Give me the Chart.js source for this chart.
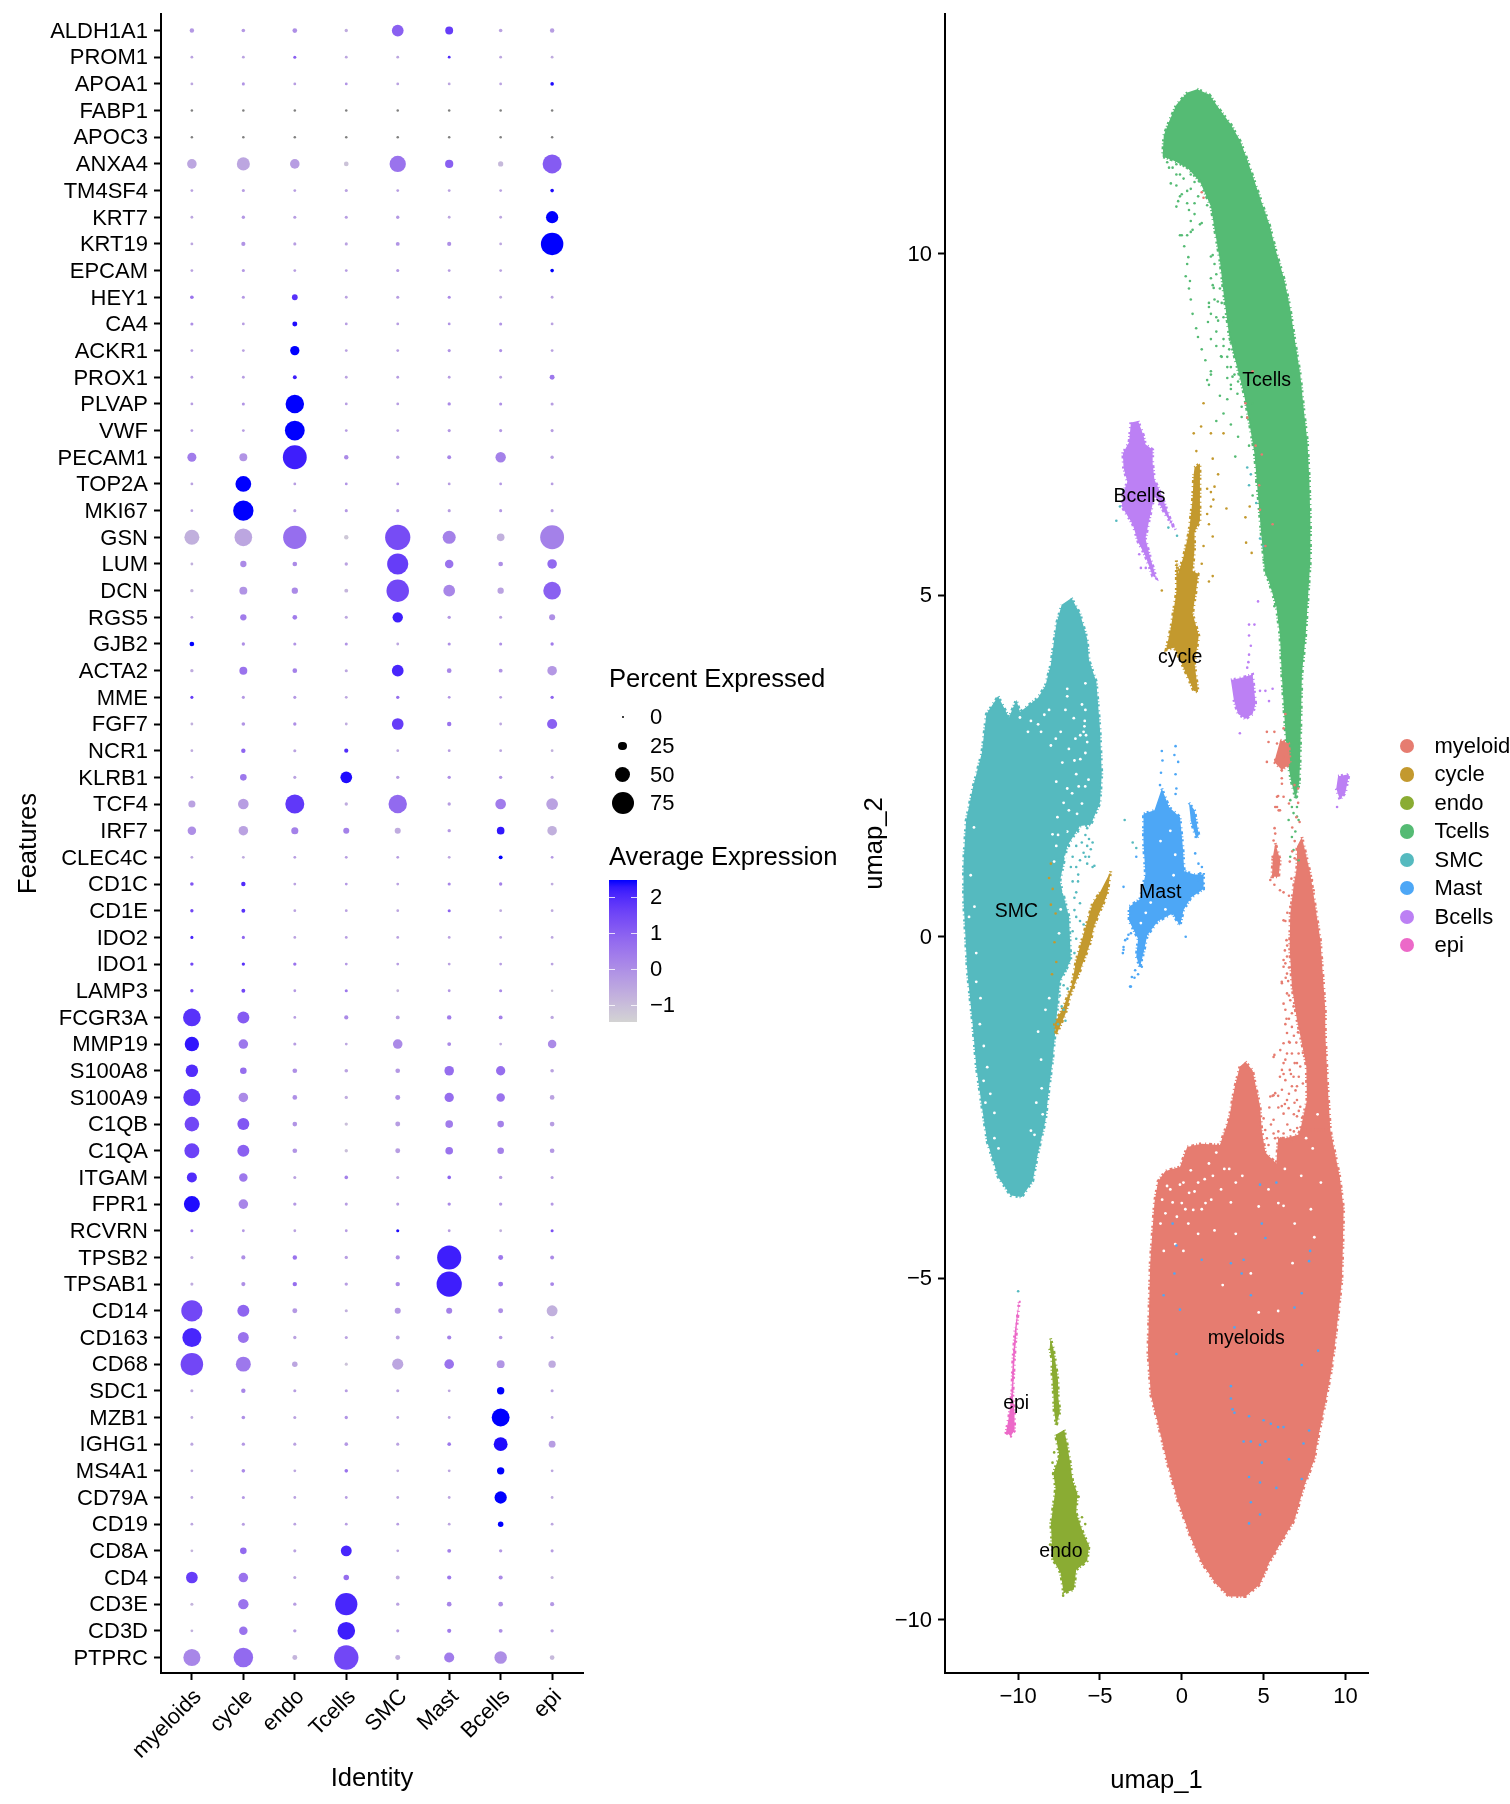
<!DOCTYPE html>
<html>
<head>
<meta charset="utf-8">
<title>Dot plot and UMAP</title>
<script src="https://cdn.jsdelivr.net/npm/chart.js@4"></script>
<style>
  html, body { margin: 0; padding: 0; background: #fff; }
  body { position: relative; width: 1510px; height: 1804px; overflow: hidden; font-family: "Liberation Sans", Arial, sans-serif; color: #000; }
  canvas { position: absolute; left: 0; top: 0; }
  .txt { position: absolute; white-space: nowrap; line-height: 1; }
  .title { font-size: 25.6px; }
  .lab { font-size: 22px; }
  .dot { position: absolute; border-radius: 50%; }
</style>
</head>
<body>
<canvas id="dots" width="1510" height="1804"></canvas>
<canvas id="umap" width="1510" height="1804"></canvas>
<script>
const identities = ['myeloids', 'cycle', 'endo', 'Tcells', 'SMC', 'Mast', 'Bcells', 'epi'];
const genes = ['ALDH1A1','PROM1','APOA1','FABP1','APOC3','ANXA4','TM4SF4','KRT7','KRT19','EPCAM','HEY1','CA4','ACKR1','PROX1','PLVAP','VWF','PECAM1','TOP2A','MKI67','GSN','LUM','DCN','RGS5','GJB2','ACTA2','MME','FGF7','NCR1','KLRB1','TCF4','IRF7','CLEC4C','CD1C','CD1E','IDO2','IDO1','LAMP3','FCGR3A','MMP19','S100A8','S100A9','C1QB','C1QA','ITGAM','FPR1','RCVRN','TPSB2','TPSAB1','CD14','CD163','CD68','SDC1','MZB1','IGHG1','MS4A1','CD79A','CD19','CD8A','CD4','CD3E','CD3D','PTPRC'];

// percent expressed, one row per gene
const pctRows = [
  [9,6,10,5,36,22,6,9],[3,3,4,3,3,3,3,3],[3,4,3,3,3,3,3,6],[2,2,2,2,2,2,2,2],[2,2,2,2,2,2,2,2],
  [28,41,28,10,53,23,12,63],[3,4,3,4,3,3,3,6],[3,5,4,4,5,3,3,38],[3,8,4,4,7,8,3,76],[3,4,3,3,4,3,3,6],
  [6,4,14,3,4,4,3,3],[4,3,11,3,3,3,4,3],[3,3,27,3,3,4,4,3],[3,3,7,3,3,3,3,11],[3,4,61,3,3,5,4,4],
  [3,3,66,3,3,4,4,4],[26,22,81,9,5,7,31,5],[3,51,3,3,3,3,3,3],[3,68,4,4,4,4,4,4],[48,58,79,9,86,41,21,81],
  [3,16,10,5,71,24,10,28],[5,22,16,7,76,36,16,58],[3,16,10,4,31,5,4,15],[10,5,4,4,3,4,4,5],[5,22,10,4,36,10,7,28],
  [4,4,4,3,5,3,3,5],[3,6,5,3,36,9,3,30],[3,9,4,8,3,3,3,3],[3,17,4,36,5,5,5,4],[19,32,63,5,61,5,32,36],
  [24,28,19,15,15,5,21,28],[3,3,3,3,3,3,7,3],[6,9,3,3,3,4,5,3],[5,7,3,3,3,4,3,3],[4,4,3,3,3,3,3,3],
  [5,5,5,3,3,3,3,3],[5,7,3,4,3,3,4,2],[58,37,3,8,7,9,7,5],[46,28,4,3,28,7,3,24],[39,17,10,6,10,28,27,6],
  [56,28,10,5,11,27,24,10],[47,37,10,5,11,21,17,10],[48,37,10,5,11,21,17,10],[30,24,4,6,4,6,5,4],[52,28,5,4,4,5,5,4],
  [4,3,3,3,4,3,3,4],[4,8,9,5,8,82,11,7],[4,8,9,5,9,86,11,7],[71,37,11,4,15,15,11,33],[63,33,5,4,7,8,6,4],
  [76,48,13,4,34,28,22,20],[4,9,4,4,4,3,20,4],[3,6,4,5,3,3,59,3],[4,5,4,6,4,6,44,18],[3,6,3,6,3,3,20,3],
  [3,4,3,3,3,3,38,3],[3,4,3,3,3,3,13,3],[3,17,4,33,3,7,5,4],[36,28,4,13,7,8,8,4],[4,31,5,75,5,10,10,8],
  [3,24,5,58,4,8,7,5],[56,65,11,83,11,30,39,10]
];
// average expression, one row per gene (null = flat gene, drawn grey)
const avgRows = [
  [-0.2,-0.2,0,-0.6,1,1.7,-0.4,-0.3],[-0.4,-0.4,1,-0.5,-0.5,2,-0.5,-0.6],[-0.5,-0.1,-0.3,-0.1,-0.4,-0.5,-0.4,2.4],
  [null,null,null,null,null,null,null,null],[null,null,null,null,null,null,null,null],
  [-0.5,-0.5,-0.3,-1.1,0.6,1,-0.9,1.1],[-0.4,-0.3,-0.3,-0.4,-0.3,-0.4,-0.4,2.4],[-0.5,-0.2,-0.3,-0.3,-0.2,-0.5,-0.5,2.5],
  [-0.5,-0.1,-0.3,-0.4,-0.1,0,-0.5,2.5],[-0.4,-0.2,-0.3,-0.3,-0.2,-0.3,-0.4,2.5],[0.6,-0.2,1.9,-0.4,-0.3,0.1,-0.6,-0.4],
  [0,-0.3,2.4,-0.3,-0.3,-0.1,-0.1,-0.4],[-0.3,-0.4,2.5,-0.4,-0.3,-0.1,0,-0.4],[-0.3,-0.3,2.2,-0.4,-0.3,-0.3,-0.4,0.5],
  [-0.3,-0.1,2.5,-0.3,-0.3,0.1,0,-0.3],[-0.3,-0.3,2.5,-0.3,-0.3,-0.2,-0.2,-0.3],[0.4,-0.1,2.2,0.1,-0.3,0.2,0.3,-0.3],
  [-0.4,2.5,-0.3,-0.1,-0.2,-0.3,-0.2,-0.3],[-0.4,2.5,-0.3,-0.2,-0.2,-0.3,-0.2,-0.3],[-0.7,-0.5,0.7,-1.2,1.4,0.3,-0.7,0.3],
  [-0.7,0.1,0.1,-0.4,1.7,0.6,0,0.8],[-0.8,-0.1,0.1,-0.8,1.5,0.2,-0.4,1],[-0.5,0.4,0.4,-0.5,2.2,-0.2,-0.4,0],
  [2.5,0,-0.1,-0.1,-0.5,0,0,0.4],[-0.6,0.6,0.3,-0.5,2.1,0.2,-0.1,-0.2],[1.7,-0.2,-0.2,-0.5,0.7,-0.1,-0.3,0.9],
  [-0.7,-0.1,0,-0.6,1.7,0.6,-0.5,1],[-0.6,0.9,-0.4,2,-0.5,-0.3,-0.5,-0.7],[-0.5,0.5,-0.4,2.4,-0.3,0,-0.1,-0.5],
  [-0.4,-0.3,1.8,-0.6,0.8,-0.3,0.4,-0.4],[0,-0.4,0.3,0.3,-0.6,-0.2,2.3,-0.7],[-0.5,-0.6,-0.3,-0.3,-0.3,-0.5,2.5,-0.2],
  [1.2,2,-0.4,-0.2,-0.4,0.2,0.3,-0.6],[1.5,1.9,-0.4,-0.4,-0.5,0.9,-0.6,-0.6],[2.1,0.9,-0.4,-0.3,-0.4,-0.4,-0.4,-0.5],
  [1.5,1.9,0.6,-0.2,-0.3,-0.4,-0.3,-0.4],[1.5,1.5,-0.2,0.5,-0.8,-0.2,0.1,-1.1],[1.9,1.1,-0.3,0.1,-0.3,0.4,0.3,-0.5],
  [2.3,0.5,-0.3,-0.5,0.1,0.1,-0.6,0.1],[2,0.7,0,-0.4,-0.2,0.7,0.7,-0.4],[1.8,0.1,0,-0.6,0,0.7,0.6,-0.4],
  [1.5,1.2,-0.1,-1,-0.3,0.4,0.3,-0.3],[1.6,1,-0.1,-1,-0.3,0.6,0.3,-0.2],[2,0.5,-0.4,0.3,-0.5,0.9,-0.3,-0.3],
  [2.4,0.2,-0.2,-0.3,-0.3,0.1,-0.2,-0.2],[0.6,-0.2,-0.4,-0.3,2.4,-0.3,-0.7,1.3],[-0.6,0,0.6,-0.3,0,2.2,0.5,0.1],
  [-0.6,0,0.7,-0.3,0.1,2.2,0.5,0.2],[1.5,0.9,-0.2,-0.7,-0.2,0.3,0,-0.7],[2.1,0.6,-0.4,-0.4,-0.4,0.3,-0.2,-0.5],
  [1.5,0.5,-0.5,-1.1,-0.5,0.6,-0.1,-0.6],[-0.5,0.2,-0.3,-0.3,-0.4,-0.5,2.5,-0.4],[-0.6,0,-0.4,-0.1,-0.4,-0.4,2.5,-0.5],
  [-0.5,-0.2,-0.4,-0.2,-0.4,0.5,2.4,-0.3],[-0.6,0.1,-0.5,0.6,-0.6,-0.5,2.5,-0.5],[-0.5,-0.2,-0.4,-0.3,-0.5,-0.5,2.5,-0.6],
  [-0.5,-0.3,-0.4,-0.3,-0.3,-0.5,2.5,-0.5],[-0.8,0.8,-0.4,2.1,-0.5,0.3,-0.2,-0.3],[1.7,0.6,-0.5,0.7,-0.6,0.5,0.1,-0.8],
  [-0.8,0.6,-0.3,2.1,-0.4,0.2,0,-0.2],[-0.7,0.6,-0.3,2.2,-0.3,0.4,0,-0.3],[0.2,0.8,-0.8,1.5,-0.7,0.4,0,-0.9]
];

const sizeBreaks = [0, 25, 50, 75];
const colourBreaks = [2, 1, 0, -1];
const colourMin = -1.456, colourMax = 2.48;

// UMAP: cluster outlines, [umap_1, umap_2]
const tcellsShape = [[0.94,12.41],[1.68,12.33],[2.35,12.1],[3.01,11.89],[3.57,11.65],[4.01,11.37],[4.46,11.05],[4.9,10.74],[5.35,10.43],[5.79,10.01],[6.24,9.64],[6.61,9.22],[6.9,8.75],[7.24,8.23],[7.46,7.71],[7.68,7.24],[7.8,6.66],[7.86,6.04],[7.86,5.52],[7.68,4.83],[7.57,4.41],[7.34,3.84],[7.28,3.16],[7.23,2.58],[7.18,2.25],[6.95,2.02],[6.67,2.3],[6.45,2.58],[6.29,3.16],[6.11,3.84],[6,4.41],[5.78,4.83],[5.33,5.2],[5.1,5.31],[4.88,5.83],[4.66,6.46],[4.44,7.08],[4.11,7.55],[3.78,7.97],[3.33,8.39],[2.89,8.81],[2.55,9.43],[2.33,9.9],[2,10.37],[1.78,10.69],[1.12,11.05],[0.34,11.26],[-0.55,11.37],[-1.17,11.42],[-1.1,11.73],[-0.77,11.94],[-0.33,12.18],[0.34,12.36]];
const bcellsShape = [[-2.67,7.55],[-2.34,7.34],[-2.22,7.21],[-1.78,7.13],[-1.78,6.93],[-1.67,6.69],[-1.22,6.46],[-0.67,6.09],[-0.38,5.96],[-0.89,6.14],[-1.67,6.46],[-2,6.09],[-2.22,5.83],[-2,5.62],[-1.56,5.25],[-1.78,5.28],[-2.22,5.57],[-2.67,5.78],[-3,6.04],[-3.67,6.3],[-3.56,6.51],[-3.33,6.66],[-3.56,6.87],[-3.6,7.08],[-3.22,7.24],[-3.11,7.53]];
const bcellsBlob = [[3,3.76],[3.66,3.79],[4.33,3.84],[4.44,3.58],[4.51,3.42],[4.33,3.26],[3.89,3.19],[3.44,3.26],[3.18,3.47]];
const bcellsSmall = [[9.55,2.35],[10.22,2.38],[10,2.11],[9.66,2.01],[9.44,2.17]];
const cycleShape = [[0.78,6.87],[1.11,6.93],[1.11,6.56],[1.11,6.09],[0.78,5.93],[0.78,5.67],[0.66,5.36],[1,5.31],[0.89,5.09],[0.66,4.73],[1.04,4.41],[0.78,4],[1,3.58],[0.73,3.6],[0.11,3.94],[-0.45,4.23],[-0.96,4.2],[-0.67,4.52],[-0.33,5.04],[-0.33,5.51],[-0.22,5.31],[0.11,5.57],[0.44,5.93],[0.66,6.4],[0.73,6.77]];
const cycleStreak = [[-4.34,0.96],[-4.56,0.62],[-4.82,0.47],[-5.33,0.18],[-5.62,-0.11],[-6.22,-0.5],[-6.78,-0.84],[-7.11,-1.13],[-7.67,-1.44],[-7.78,-1.28],[-7.22,-1.02],[-6.73,-0.71],[-6.45,-0.34],[-5.89,0.13],[-5.45,0.49],[-5,0.65]];
const smcShape = [[-6.74,4.96],[-6.22,4.73],[-5.78,4.36],[-5.67,4.05],[-5.22,3.73],[-5,3.05],[-4.89,2.38],[-5,1.96],[-5.56,1.64],[-6.22,1.62],[-7,1.33],[-7.45,0.81],[-6.89,0.29],[-6.78,-0.34],[-7.45,-0.66],[-7.67,-1.23],[-7.89,-1.8],[-8.11,-2.22],[-8.33,-2.69],[-8.78,-3.16],[-9.11,-3.58],[-9.78,-3.81],[-10.45,-3.79],[-11.22,-3.52],[-11.89,-3],[-12.22,-2.48],[-12.56,-1.9],[-12.78,-1.28],[-13.11,-0.5],[-13.34,0.55],[-13.34,1.07],[-13.18,1.7],[-12.78,2.17],[-12.22,2.69],[-11.94,3.26],[-11.22,3.52],[-10.56,3.21],[-10.11,3.47],[-9.89,3.29],[-8.78,3.5],[-8.33,3.68],[-8,3.99],[-7.67,4.57],[-7.34,4.86]];
const mastShape = [[-1.22,2.17],[-0.78,1.9],[-0.11,1.75],[0.06,1.33],[0.15,0.96],[0.78,0.91],[1.33,0.91],[1.33,0.7],[0.55,0.57],[0.11,0.39],[-0.11,0.16],[-0.56,0.34],[-1.45,0.23],[-2.11,0.02],[-2.34,-0.24],[-2.56,-0.45],[-2.78,-0.29],[-2.67,-0.03],[-3.22,0.23],[-3.22,0.44],[-2.56,0.55],[-2.22,0.91],[-2.34,1.38],[-2.34,1.8],[-1.67,1.85]];
const mastStrip = [[0.44,1.96],[0.78,1.85],[1.04,1.49],[0.89,1.44],[0.55,1.7]];
const mastInMyeloidStreak = [[4.33,-8.59],[4.73,-8.64],[4.55,-9.06],[4.29,-9.06]];
const mastInMyeloidBlob = [[4.89,-7.42],[5.78,-7.39],[5.89,-7.55],[5.33,-7.63]];
const myeloidShape = [[3.89,-1.83],[4.33,-1.96],[4.55,-2.22],[4.78,-2.48],[4.89,-2.84],[5.11,-3.16],[5.78,-3.32],[5.89,-2.95],[6.33,-2.95],[7.11,-2.9],[7.24,-2.83],[9.08,-2.83],[9.44,-3.26],[9.66,-3.52],[9.89,-3.99],[9.84,-4.57],[9.78,-5.04],[9.55,-5.56],[9.33,-6.03],[9.11,-6.4],[8.78,-6.82],[8.33,-7.34],[8.11,-7.65],[7.44,-8.07],[6.89,-8.54],[6.11,-8.85],[5.33,-9.17],[4.78,-9.48],[3.89,-9.66],[2.89,-9.66],[2.11,-9.48],[1.22,-9.17],[0.55,-8.8],[-0.22,-8.28],[-0.89,-7.7],[-1.45,-7.13],[-1.89,-6.71],[-2.07,-6.08],[-2,-5.46],[-1.93,-4.78],[-1.67,-3.89],[-1.45,-3.58],[-1,-3.43],[-0.11,-3.37],[0.33,-3.08],[1.22,-3.03],[2.33,-3.05],[2.89,-2.66],[3.22,-2.22],[3.55,-1.9]];
const myeloidArm = [[7.34,1.46],[7.85,0.93],[8.1,0.54],[8.47,-0.05],[8.63,-0.59],[8.77,-1.07],[8.77,-1.41],[8.91,-2.15],[9.08,-2.83],[7.24,-2.83],[7.65,-2.39],[7.61,-1.9],[7.34,-1.56],[7.04,-1.22],[6.73,-0.73],[6.59,-0.15],[6.63,0.34],[6.83,0.73],[7.04,1.03],[7.04,1.32]];
const myeloidStrip = [[6.02,2.88],[6.53,2.83],[6.63,2.54],[6.12,2.44],[5.65,2.56]];
const myeloidStrip2 = [[5.71,1.37],[6.02,1.12],[5.92,0.88],[5.51,0.88],[5.57,1.17]];
const endoShape = [[-7.18,-7.22],[-7,-7.44],[-6.82,-7.7],[-6.67,-7.97],[-6.38,-8.15],[-6.45,-8.44],[-6,-8.75],[-5.67,-8.91],[-5.78,-9.14],[-6.45,-9.27],[-6.6,-9.56],[-7.22,-9.61],[-7.4,-9.32],[-7.89,-9.11],[-8,-8.59],[-7.71,-8.07],[-7.85,-7.86],[-7.49,-7.6],[-7.71,-7.29]];
const endoStrip = [[-8.02,-5.88],[-7.85,-6.03],[-7.71,-6.24],[-7.56,-6.5],[-7.56,-6.71],[-7.45,-6.95],[-7.67,-7.16],[-7.8,-6.95],[-7.85,-6.66],[-7.93,-6.4],[-7.93,-6.19],[-8.07,-6.03]];
const epiShape = [[-9.96,-5.35],[-9.94,-5.35],[-10.07,-5.67],[-10.22,-6.14],[-10.33,-6.71],[-10.22,-6.97],[-10.22,-7.23],[-10.45,-7.31],[-10.74,-7.26],[-10.56,-7.02],[-10.38,-6.66],[-10.33,-6.24],[-10.18,-5.72]];

// UMAP: loose cells outside the dense outlines
const tcellsCells = [[-0.78,11.26],[-0.33,11.16],[-0.11,10.84],[-0.33,10.69],[0.44,10.64],[0.78,10.74],[1.22,10.45],[0,10.27],[0.55,10.32],[0.15,10.11],[0.33,9.85],[0.24,9.67],[0.44,9.49],[0.55,9.33],[0.66,9.12],[0.88,8.91],[0.99,8.78],[1.66,9.22],[2.11,9.07],[1.78,9.64],[2,9.85],[1.89,9.98],[1.22,8.6],[1.44,8.44],[1.78,8.23],[1.66,8.08],[2.33,7.92],[3,8.08],[2.78,8.34],[3.22,8.55],[2.55,8.75],[2.11,8.86],[3.66,7.76],[4.33,7.81],[4,7.6],[2.55,7.66],[2.11,7.55],[3,7.5],[3.44,7.32],[4.11,7.19],[3.27,7.03],[-0.33,11.31],[0.11,11.1],[0.55,10.95],[3,9.02],[3.22,8.7],[3.55,8.23],[4.55,6.66],[4.33,6.46],[4.89,6.04],[5,5.52],[5.55,5.15],[5.66,4.84],[0.4,9.95],[0.5,9.6],[1.95,9.5],[2.2,9.3],[1.6,9],[2.4,8.5],[2.9,8.6],[3.1,8.2],[3.4,7.95],[-0.89,11.34],[-0.56,11.26],[-0.67,11.03],[-0.33,11],[0.11,11.29],[-0.11,11.16],[0.55,11.16],[0.78,11.05],[0.33,10.92],[0,10.87],[-0.22,10.77],[0.33,10.74],[1,10.84],[1.55,10.71],[0.78,10.58],[0.55,10.48],[1.11,10.43],[-0.11,10.27],[0.33,10.27],[0.66,10.35],[1.78,9.96],[2.11,9.7],[1.89,9.54],[2.33,9.49],[1.66,9.28],[2,9.33],[2.44,9.28],[1.78,9.12],[2.22,9.02],[2.55,9.07],[1.78,8.75],[2.11,8.65],[2.55,8.65],[3,8.7],[2.44,8.49],[2.78,8.49],[3,8.34],[2.78,8.18],[3.22,8.23],[3,8.02],[3.44,8.13],[2.78,7.87],[1.78,8.28],[1.55,8.15],[3.66,7.61],[7.04,1.9],[6.73,1.9],[7.04,1.76],[6.53,1.71],[7.14,1.71],[6.94,1.54],[6.73,1.46],[6.83,1.27],[6.63,1.17],[7.14,1.12],[7.04,2.05],[6.83,1.81],[6.63,2]];
const bcellsCells = [[4.11,4.57],[4.44,4.57],[4.11,4.41],[4.22,4.26],[4.11,4.13],[4.07,4.02],[4,3.94],[4.78,3.6],[5.11,3.6],[5.55,3.63],[5.33,3.45],[3.55,2.98],[4.66,4.91],[9.49,1.9],[-2.6,5.6],[-2.5,5.4],[-2.2,5.4]];
const cycleCells = [[1.33,7.81],[1.18,7.47],[0.73,7.37],[1.78,7.37],[2.55,7.37],[0.89,7.11],[1.89,7],[2.22,6.77],[1.78,6.51],[2,6.59],[1.55,6.56],[1.93,6.4],[1.78,6.3],[1.55,6.19],[1.66,6.04],[1.89,5.86],[1.33,5.72],[1.22,5.46],[1.89,5.28],[1.66,5.2],[2.73,6.27],[3.89,6.14],[4.15,6.3],[3.93,5.77],[4.27,5.62],[-1.22,5.07],[-8,1.07],[-8.11,0.86],[-7.89,0.7],[-8,0.47],[-7.71,0.34],[-7.78,-0.08],[-7.67,-0.37],[-7.93,-0.55]];
const smcCells = [[-5.45,1.38],[-5.67,1.17],[-5.34,1.04],[-6.33,0.91],[-6.45,0.65],[-6.56,0.39],[-6.22,0.23],[-6,1.23],[-5.78,1.59],[-6.98,-0.76],[-7.22,-1.07],[-3,1.38],[-2.78,1.3],[-3.49,1.71],[-4,6.09],[-3.78,6.3],[-3.56,6.53],[-0.82,5.99],[-0.29,5.87],[4,6.87],[4.22,6.77],[4.11,6.61],[4.55,6.35],[4.78,5.83],[5,5.72],[-10,-5.19],[-7.11,1.54],[-6.78,1.49],[-6.34,1.54],[-5.89,1.49],[-5.78,1.33],[-5.56,1.28],[-6.45,1.33],[-6.89,1.33],[-6.67,1.17],[-6.22,1.12],[-5.78,1.07],[-5.45,1.02],[-6.45,1.02],[-6.78,1.02],[-6.67,0.81],[-6.34,0.81],[-6.56,0.57],[-6.22,0.49],[-6.45,0.29],[-6,0.18],[-6.67,0.08],[-6.45,-0.03],[-6.56,-0.24],[-7.11,-0.5],[-7.22,-0.71],[-7.45,-0.86],[-7.34,-1.02],[-7.11,-1.23],[-7.56,-1.28],[-6.11,1.38],[-5.67,1.43],[-5.89,1.17]];
const mastCells = [[-1.22,2.72],[-1.18,2.58],[-1.27,2.4],[-0.38,2.79],[-0.45,2.66],[-0.22,2.56],[-0.38,2.38],[-0.33,2.17],[-0.38,2.09],[-1.33,2.22],[-3.56,-0.19],[-3.33,-0.03],[-3.11,0.05],[-2.67,-0.55],[-2.89,-0.6],[-3.11,-0.73],[-3.6,-0.24],[0.24,0],[-2.78,1.17],[-3.56,0.73],[-0.56,-4.2],[-0.33,-4.52],[-0.45,-4.93],[-1.11,-5.25],[-0.11,-5.46],[1.22,-4.73],[3,-4.78],[3.78,-4.73],[3.66,-4.93],[4.22,-5.25],[3.22,-5.72],[4.89,-4.2],[5.11,-4.41],[4.78,-3.63],[5.78,-3.6],[7.78,-4.75],[7.84,-4.6],[7.33,-5.22],[6.89,-5.43],[8.33,-6.06],[7.33,-6.27],[-0.33,-6.11],[3,-6.58],[3,-6.76],[3.11,-6.92],[3.22,-6.97],[4.11,-7.02],[4.22,-7.39],[3.78,-7.39],[4.78,-7.44],[5.11,-7.39],[5,-7.08],[5.44,-7.13],[5.89,-7.18],[6.22,-7.18],[4.89,-7.7],[4.11,-7.91],[4.78,-7.99],[5.78,-8.07],[7.33,-7.94],[6.55,-7.65],[7.44,-7.42],[7.78,-7.23],[4.22,-8.28],[4.78,-8.46],[4.11,-8.59],[-3.56,-0.15],[-3.46,-0.05],[-3.26,0.03],[-3.05,-0.59],[-3.16,-0.73],[-2.85,-0.49],[-2.44,-0.34],[-2.54,-0.24],[-2.44,-0.44],[0.82,1.22],[1.02,1.07],[1.23,1.02],[1.13,0.93],[1.02,0.83],[1.33,0.78]];
const myeloidCells = [[5.55,0.89],[5.55,1.17],[5.78,1.33],[5.67,1.59],[6,1.85],[5.89,2.06],[6.11,2.32],[5.66,3],[6.22,3.05],[6.33,3.26],[6.33,-1.8],[5.89,-2.33],[6.33,-1.28],[6.22,-0.34],[6.11,-0.66],[6.44,-0.13],[6.55,-0.86],[6.33,0.23],[6.22,0.65],[5.66,0.76],[6,0.68],[6.55,-1.54],[6.67,-2.01],[6.22,-2.01],[5.66,-1.73],[5.55,-2.33],[6.11,-2.48],[6.89,-2.43],[7.11,2.17],[7.11,1.96],[7,1.75],[7.2,1.68],[6.89,2.22],[1.22,10.9],[1.33,10.82],[4.33,8.28],[3.89,7.81],[4,7.6],[4.51,7.19],[4.89,7.06],[4.73,6.61],[4.78,6.25],[5.55,6.04],[5.11,5.72],[6.22,-1.56],[6.02,-1.66],[5.61,-1.76],[6.43,-1.41],[6.73,-1.32],[6.12,-1.95],[6.33,-2.1],[6.12,-2.24],[6.83,-2.05],[7.04,-2.19],[6.43,-2.39],[5.61,-2.32],[5.41,-2.34],[5.71,-2.29],[6.53,-2.51],[6.22,-2.59],[5.61,-2.68],[5,-2.66],[5.1,-2.83],[5.61,-2.88],[6.22,-2.88],[6.63,-2.83],[7.04,-2.63],[7.24,-2.49],[7.04,-1.85],[6.73,-1.71],[7.24,-1.9],[6.43,-1.71],[7.04,-2.39],[6.73,-2.19],[6.22,-1.85],[7.14,-1.71],[6.33,-0.39],[6.22,-0.44],[6.12,-0.68],[6.43,-0.54],[6.43,-0.83],[6.33,-1.07],[6.73,-1.12],[6.22,0.24],[6.43,-0.29],[6.63,-0.93],[6.83,-1.02],[6.22,-0.98],[6.63,0.44],[8.06,0.68],[7.96,0.83],[5.61,1.41],[5.71,1.51],[5.6,1.02],[5.41,0.83],[5.92,1.85],[5.82,1.9],[5.82,2.05],[6.22,2.05],[5.71,1.9],[6.12,2.24],[5.71,2.59],[5.2,2.56],[5.3,2.85],[5.2,3],[5.82,2.83],[6.22,2.63],[6.9,1.4],[7.1,1.15],[6.75,1.6],[6.55,1.95],[5.9,-2.5],[6,-2.05],[6.3,-2.45],[6.55,-2.3],[6.85,-2.6],[6.95,-2.25],[7.15,-2.55],[7.15,-2.05],[6.6,-1.95],[6.9,-1.85],[7,-1.55],[6.85,-1.45],[6.6,-1.55],[6.55,-1.2],[7.1,-1.4],[6.4,-1.2],[6.5,-0.65],[6.35,-0.6],[6.55,-0.45],[6.4,-0.05],[6.3,-0.2],[6.45,0.35],[6.55,0.6],[6.7,0.85],[6.9,1.15],[6.75,1.25],[6.6,1.1],[5.45,-2.75],[5.35,-2.5],[5.9,-2.85],[6.45,-2.75],[6.85,-2.85],[7.05,-2.8],[5.7,-2.95],[6.05,-2.95],[5.3,-3.05],[6.4,-3],[6.7,-3],[5.2,-2.95],[7.4,-1.7],[7.4,-2.15],[7.35,-2.65]];
const endoCells = [[-7.9,-7.7],[-7.8,-7.55],[-6.3,-8.2],[-6.1,-8.5],[-5.9,-8.6],[-7.25,-9.65],[-8.05,-8.9]];
const epiCells = [[-10.3,-6.4],[-10.25,-6.05],[-10.05,-5.55]];

// UMAP: white gaps inside the big clouds
const cloudGaps = [[-5.89,3.32],[-5.93,3.16],[-6,3],[-5.78,2.85],[-5.89,2.69],[-7,3.52],[-7.11,3.32],[-7,3.63],[-5.89,3.71],[-6.56,2.58],[-6.45,2.38],[-7,2.17],[-7.67,2.27],[-7.22,1.96],[-8.78,3.11],[-9.22,3.16],[-9.89,3.21],[-8.11,3.32],[-7.56,1.49],[-7.67,1.33],[-7,1.54],[-7.11,1.17],[-7.11,0.91],[-7.22,0.65],[-12.56,-0.24],[-12.56,-0.66],[-12.34,-1.28],[-11.89,-1.91],[-8.33,-1.07],[-8.78,-1.39],[-13,0.29],[-12.67,0.44],[-12.11,-2.11],[-12,-2.43],[-11.45,-2.58],[-11.45,-2.95],[-8.89,-2.43],[-8.56,-2.22],[-9.22,-2.84],[-5.95,3.08],[-5.85,2.95],[-6.5,2.9],[-6.3,2.2],[-6.1,1.95],[-6.9,2.75],[-7.3,2.55],[-6.1,3.4],[-6.2,2.95],[-6.6,3.2],[-6.2,2.6],[-5.7,2.3],[-5.9,2.2],[-6.7,2.1],[-6.9,1.85],[-6.4,1.8],[-7.4,3],[-7.7,2.9],[-8,2.8],[-8.4,3.25],[-8.6,3],[-9.4,3],[-7.6,1.75],[-7.9,1.5],[-7.8,1.1],[-7.4,0.4],[-7.5,0.05],[-8.1,-0.9],[-8.6,-1.8],[-8.5,-2.6],[-9,-2.9],[-12.9,0.9],[-12.7,1.6],[-12.3,-0.9],[-12.1,-1.6],[-11.7,-2.3],[-11.2,-3.1],[0.22,-3.99],[-0.11,-3.63],[0.78,-3.73],[-1,-4.05],[-0.56,-3.89],[0.55,-3.42],[1.66,-3.32],[2.11,-3.16],[3,-3.89],[1.22,-3.99],[5.89,-5.48],[4.22,-4.93],[6.77,-4.78],[7.89,-3.99],[6.22,-3.94],[0.1,-3.6],[-0.7,-3.7],[1.9,-3.5],[2.6,-3.4],[0.45,-3.75],[6.3,-3.4],[7.6,-2.95],[8,-3.1],[8.3,-2.6],[-1.3,-4.2],[-1.2,-3.85],[-0.9,-3.65],[-0.3,-4.1],[0,-3.9],[0.4,-4.2],[0.7,-4],[1,-3.6],[1.4,-3.55],[1.45,-3.9],[1.8,-3.85],[2.4,-3.7],[2.9,-3.4],[3.3,-3.6],[3.7,-3.5],[-0.4,-4.5],[0.1,-4.6],[-1.1,-4.6],[1,-4.35],[2,-4.3],[3.3,-4.35],[4.7,-3.95],[5.3,-3.7],[5.9,-3.9],[7.3,-3.5],[8.5,-3.6],[8.1,-4.4],[6.9,-4.2],[4.7,-5.5],[2.5,-5.1],[-1,0.4],[-1.3,1.4],[-0.5,0.9],[-1.9,0.5],[-2.2,0.35],[-0.4,1.2],[-0.7,1.55],[-2.5,0.2]];

const clusterNames = ['myeloids', 'cycle', 'endo', 'Tcells', 'SMC', 'Mast', 'Bcells', 'epi'];
const clusterColours = ['#E67C70', '#C3992E', '#8AAC33', '#55BB74', '#55BABF', '#4DA7F6', '#BC80F4', '#EC69C8'];
const clusterShapes = [
  [myeloidShape, myeloidArm, myeloidStrip, myeloidStrip2], [cycleShape, cycleStreak], [endoShape, endoStrip], [tcellsShape],
  [smcShape], [mastShape, mastStrip, mastInMyeloidStreak, mastInMyeloidBlob], [bcellsShape, bcellsBlob, bcellsSmall], [epiShape]
];
const clusterCells = [myeloidCells, cycleCells, endoCells, tcellsCells, smcCells, mastCells, bcellsCells, epiCells];
const clusterLabels = [[3.94,-5.88], [-0.1,4.09], [-7.39,-9.01], [5.19,8.14], [-10.1,0.37], [-1.32,0.64], [-2.59,6.44], [-10.12,-6.84]];

// lightgrey to blue in Lab, the way ggplot2 mixes its gradient
function labToRgb(L, a, b) {
  const fy = (L + 16) / 116, fx = fy + a / 500, fz = fy - b / 200;
  const inv = t => t > 6 / 29 ? t * t * t : 3 * (6 / 29) * (6 / 29) * (t - 4 / 29);
  const X = 0.95047 * inv(fx), Y = inv(fy), Z = 1.08883 * inv(fz);
  const lin = [3.2406 * X - 1.5372 * Y - 0.4986 * Z, -0.9689 * X + 1.8758 * Y + 0.0415 * Z, 0.0557 * X - 0.204 * Y + 1.057 * Z];
  const gam = c => { c = Math.min(1, Math.max(0, c)); return c <= 0.0031308 ? 12.92 * c : 1.055 * Math.pow(c, 1 / 2.4) - 0.055; };
  return 'rgb(' + lin.map(c => Math.round(gam(c) * 255)).join(',') + ')';
}
function expColour(v) {
  if (v === null) return '#808080';
  const t = Math.min(1, Math.max(0, (v - colourMin) / (colourMax - colourMin)));
  return labToRgb(84.56 + t * (32.3 - 84.56), t * 79.19, t * -107.86);
}
const pctRadius = p => 1 + 0.135 * p;
const minus = v => String(v).replace('-', '\u2212');

Chart.defaults.font.family = '"Liberation Sans", Arial, sans-serif';
Chart.defaults.color = '#000';
Chart.defaults.animation = false;
Chart.defaults.events = [];
Chart.defaults.plugins.legend.display = false;
Chart.defaults.plugins.tooltip.enabled = false;

const axisLines = {
  border: { color: '#000', width: 2 },
  grid: { drawOnChartArea: false, tickLength: 7, tickWidth: 2, tickColor: '#000' }
};
// fixed axis boxes, so the panels land where they should whatever the labels need
const fixHeight = h => s => { s.height = h; s.paddingLeft = 0; s.paddingRight = 0; };
const fixWidth = w => s => { s.width = w; s.paddingTop = 0; s.paddingBottom = 0; };

const dotPoints = [];
genes.forEach((g, row) => identities.forEach((id, col) => {
  dotPoints.push({ x: col, y: row, r: pctRadius(pctRows[row][col]), avg: avgRows[row][col] });
}));

new Chart(document.getElementById('dots'), {
  type: 'bubble',
  data: {
    datasets: [{
      data: dotPoints,
      borderWidth: 0,
      backgroundColor: ctx => expColour(ctx.raw.avg)
    }]
  },
  options: {
    responsive: false,
    layout: { padding: { left: 0, top: 14, right: 927, bottom: 0 } },
    clip: false,
    scales: {
      x: {
        type: 'linear', min: -0.6, max: 7.6, ...axisLines,
        afterFit: fixHeight(131),
        ticks: { stepSize: 1, includeBounds: false, autoSkip: false, maxRotation: 45, minRotation: 45, padding: 4, labelOffset: 6, font: { size: 22 }, callback: v => identities[v] },
        title: { display: true, text: 'Identity', font: { size: 25.6 }, padding: { top: 0, bottom: 10 } }
      },
      y: {
        type: 'linear', reverse: true, min: -0.62, max: 61.58, ...axisLines,
        afterFit: fixWidth(161),
        ticks: { stepSize: 1, includeBounds: false, autoSkip: false, padding: 6, labelOffset: 1.2, font: { size: 22 }, callback: v => genes[v] },
        title: { display: true, text: 'Features', font: { size: 25.6 }, padding: { top: 14, bottom: 0 } }
      }
    }
  }
});

const asPoints = list => list.map(p => ({ x: p[0], y: p[1] }));
const umapSets = [];
clusterNames.forEach((name, i) => {
  clusterShapes[i].forEach(shape => {
    umapSets.push({
      label: name, order: 3, data: asPoints(shape), showLine: true, fill: 'shape', tension: 0,
      backgroundColor: clusterColours[i], borderColor: clusterColours[i], borderWidth: 3,
      borderDash: [1, 2, 2, 4, 1, 3, 3, 2], pointRadius: 0
    });
  });
});
umapSets.push({ label: 'gaps', order: 2, data: asPoints(cloudGaps), backgroundColor: '#fff', borderWidth: 0, pointRadius: 1.4 });
clusterNames.forEach((name, i) => {
  umapSets.push({ label: name, order: 1, data: asPoints(clusterCells[i]), backgroundColor: clusterColours[i], borderWidth: 0, pointRadius: 1.3 });
});

const clusterText = {
  id: 'clusterText',
  afterDatasetsDraw(chart) {
    const { ctx, scales: { x, y } } = chart;
    ctx.save();
    ctx.font = '19.5px "Liberation Sans", Arial, sans-serif';
    ctx.fillStyle = '#000';
    ctx.textAlign = 'center';
    ctx.textBaseline = 'middle';
    clusterLabels.forEach((p, i) => ctx.fillText(clusterNames[i], x.getPixelForValue(p[0]), y.getPixelForValue(p[1])));
    ctx.restore();
  }
};

new Chart(document.getElementById('umap'), {
  type: 'scatter',
  data: { datasets: umapSets },
  plugins: [clusterText],
  options: {
    responsive: false,
    layout: { padding: { left: 845, top: 14, right: 142, bottom: 0 } },
    scales: {
      x: {
        type: 'linear', min: -14.47, max: 11.38, ...axisLines,
        afterFit: fixHeight(131),
        ticks: { stepSize: 5, includeBounds: false, maxRotation: 0, padding: 4, font: { size: 22 }, callback: minus },
        title: { display: true, text: 'umap_1', font: { size: 25.6 }, padding: { top: 0, bottom: 8 } }
      },
      y: {
        type: 'linear', min: -10.78, max: 13.51, ...axisLines,
        afterFit: fixWidth(100),
        ticks: { stepSize: 5, includeBounds: false, padding: 6, labelOffset: 1.2, font: { size: 22 }, callback: minus },
        title: { display: true, text: 'umap_2', font: { size: 25.6 }, padding: { top: 15, bottom: 0 } }
      }
    }
  }
});

// legends sit beside the panels as plain page elements
function addText(text, cls, left, midY) {
  const el = document.createElement('div');
  el.className = 'txt ' + cls;
  el.textContent = text;
  el.style.left = left + 'px';
  el.style.top = midY + 'px';
  el.style.transform = 'translateY(-50%)';
  document.body.appendChild(el);
}
function addDot(cx, cy, r, colour) {
  const el = document.createElement('div');
  el.className = 'dot';
  el.style.cssText = `left:${cx - r}px;top:${cy - r}px;width:${2 * r}px;height:${2 * r}px;background:${colour}`;
  document.body.appendChild(el);
}

addText('Percent Expressed', 'title', 609, 679);
sizeBreaks.forEach((p, i) => {
  const cy = 717.3 + i * 28.67;
  addDot(622.7, cy, pctRadius(p), '#000');
  addText(String(p), 'lab', 650, cy);
});

addText('Average Expression', 'title', 609, 856.7);
const barTop = 880, barHeight = 141.7, barLeft = 609, barWidth = 28;
const stops = [];
for (let i = 0; i <= 20; i++) stops.push(expColour(colourMax - i / 20 * (colourMax - colourMin)) + ' ' + (i * 5) + '%');
const bar = document.createElement('div');
bar.style.cssText = `position:absolute;left:${barLeft}px;top:${barTop}px;width:${barWidth}px;height:${barHeight}px;background:linear-gradient(to bottom,${stops.join(',')})`;
document.body.appendChild(bar);
colourBreaks.forEach(v => {
  const y = barTop + (colourMax - v) / (colourMax - colourMin) * barHeight;
  [barLeft, barLeft + barWidth - 5.6].forEach(x => {
    const t = document.createElement('div');
    t.style.cssText = `position:absolute;left:${x}px;top:${y - 0.5}px;width:5.6px;height:1px;background:rgba(255,255,255,0.8)`;
    document.body.appendChild(t);
  });
  addText(minus(v), 'lab', 650, y);
});

clusterNames.forEach((name, i) => {
  const cy = 746 + i * 28.45;
  addDot(1407.3, cy, 7.2, clusterColours[i]);
  addText(name, 'lab', 1434.5, cy);
});
</script>
</body>
</html>
